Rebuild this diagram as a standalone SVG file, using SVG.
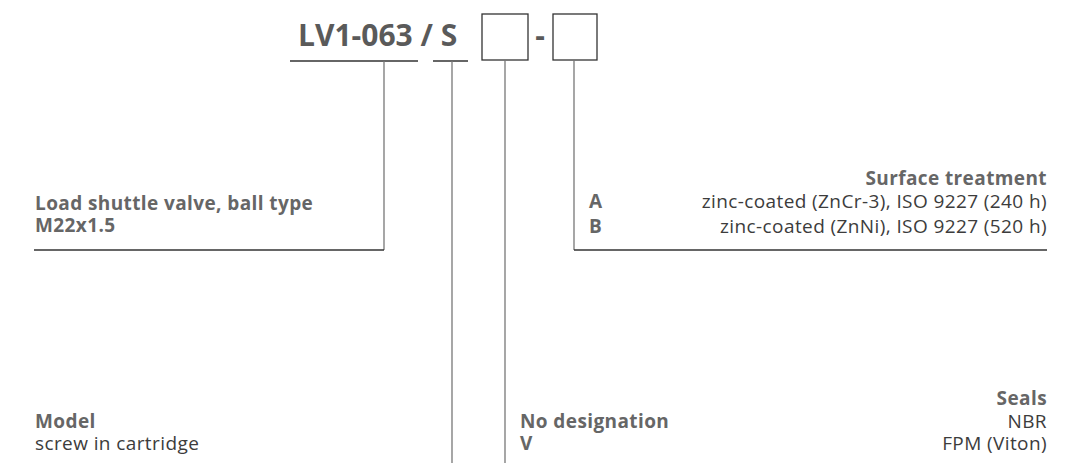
<svg xmlns="http://www.w3.org/2000/svg" width="1071" height="463" viewBox="0 0 1071 463">
<style>
.t{font-family:"Open Sans","Noto Sans",sans-serif;font-size:19px;letter-spacing:0.4px;fill:#3c3c3c}
.b{font-weight:bold;fill:#666}
.title{font-family:"Open Sans","Noto Sans",sans-serif;font-size:30px;font-weight:bold;fill:#5a5a5a}
.r{text-anchor:end}
.v{stroke:#777;stroke-width:1.3;fill:none}
.h{stroke:#333;stroke-width:1.3;fill:none}
.box{stroke:#333;stroke-width:1.3;fill:#fff}
</style>
<rect width="1071" height="463" fill="#fff"/>
<g id="code">
<text class="title" x="298" y="46">LV1-063 / S</text>
<rect class="box" x="482" y="14" width="46" height="46"/>
<text class="title" x="540" y="46" text-anchor="middle">-</text>
<rect class="box" x="553" y="14" width="44" height="46"/>
</g>
<g id="connectors">
<line class="h" x1="290" y1="61" x2="418" y2="61"/>
<line class="h" x1="433" y1="61" x2="468" y2="61"/>
<polyline class="v" points="384,61 384,250"/>
<line class="h" x1="34" y1="250" x2="384" y2="250"/>
<line class="v" x1="452" y1="61" x2="452" y2="463"/>
<line class="v" x1="505" y1="60" x2="505" y2="463"/>
<polyline class="v" points="574,60 574,250"/>
<line class="h" x1="574" y1="250" x2="1047" y2="250"/>
</g>
<g id="load-shuttle">
<text class="t b" x="35" y="210">Load shuttle valve, ball type</text>
<text class="t b" x="35" y="232">M22x1.5</text>
</g>
<g id="surface">
<text class="t b r" x="1047" y="185">Surface treatment</text>
<text class="t b" x="589" y="208">A</text>
<text class="t r" x="1047" y="208">zinc-coated (ZnCr-3), ISO 9227 (240 h)</text>
<text class="t b" x="589" y="233">B</text>
<text class="t r" x="1047" y="233">zinc-coated (ZnNi), ISO 9227 (520 h)</text>
</g>
<g id="model">
<text class="t b" x="35" y="428">Model</text>
<text class="t" x="35" y="450">screw in cartridge</text>
</g>
<g id="seals">
<text class="t b r" x="1047" y="405">Seals</text>
<text class="t b" x="520" y="428">No designation</text>
<text class="t r" x="1047" y="428">NBR</text>
<text class="t b" x="520" y="450">V</text>
<text class="t r" x="1047" y="450">FPM (Viton)</text>
</g>
</svg>
